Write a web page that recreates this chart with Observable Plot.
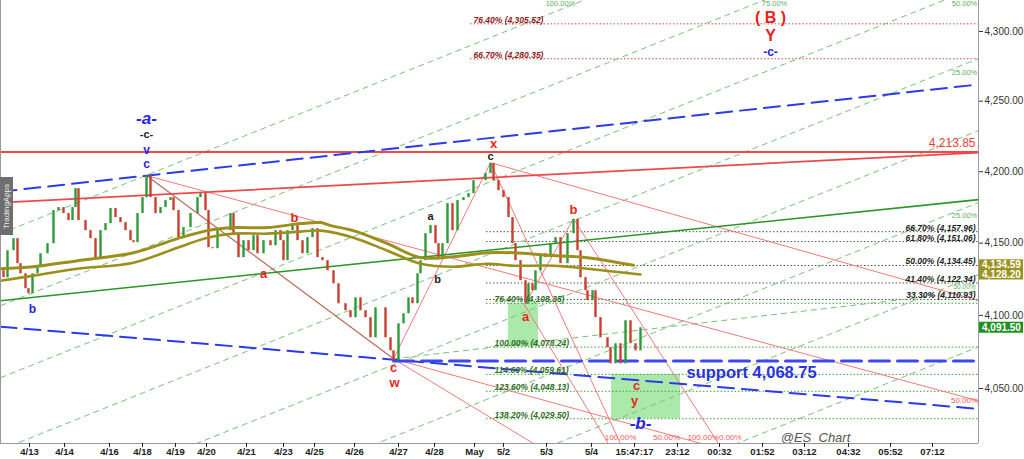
<!DOCTYPE html>
<html><head><meta charset="utf-8">
<script src="https://cdn.jsdelivr.net/npm/d3@7"></script>
<script src="https://cdn.jsdelivr.net/npm/@observablehq/plot@0.6"></script>
<style>
body{margin:0;background:#fff;}
#chart{position:relative;width:1024px;height:459px;overflow:hidden;}
#tab{position:absolute;left:0;top:177px;width:13px;height:58px;background:#6e6e6e;color:#eee;font:8px "Liberation Sans",Arial,sans-serif;writing-mode:vertical-rl;transform:rotate(180deg);text-align:center;line-height:13px;}
</style></head><body><div id="chart"><div id="tab">TradingApps</div></div>
<script>
// ---------- DATA ----------
// price path (bar index, close)
const candleBars = [0,1.5,3.5,6.5,8.5,10,12.5,14,16,18.5,20,23.5,26.5,29,31.5,34,36,37.5,39,42.5,45,47.5,50,52.5,55,57.5,60,62.5,65,66.5,68.5,71,73,75,77.5,80,82.5,85,86.5,89,91.5,95,98.5,100,102.5,104,106,108.5,111.5,115,116.5,119,121.5,124,126.5,128.5,131.5,135,137.5,140,141.5,143.5,146,148.5,151,153.5,156,158.5,161,163.5,166.5,169,172.5,175,177.5,180,182.5,185,187.5,190,192.5,195,196.5,199,201.5,204,206,208.5,210,212.5,215,217.5,219,221,223.5,226,228.5,231.5,234,236.5,240,242.5,245,246.5,249,251.5,254,256,257.5,260,262.5,264,266,267.5,270,272.5,275,277.5,280,283.5,286.5,288.5,290,292.5,293.5,296,297.5,300,303.5,305,307.5,310,312.5,315,317.5,320];
const candleClose = [4130.8,4126.0,4144.7,4153.1,4135.7,4128.7,4118.4,4114.9,4128.7,4132.9,4142.6,4149.6,4172.7,4174.8,4170.6,4165.7,4174.8,4188.1,4165.7,4158.7,4153.1,4139.9,4158.7,4163.6,4174.1,4167.8,4164.3,4158.7,4151.7,4150.3,4170.6,4181.8,4197.3,4181.8,4170.6,4174.8,4179.7,4181.8,4172.7,4153.8,4160.8,4170.6,4181.8,4184.6,4172.7,4146.8,4146.1,4158.7,4158.7,4170.6,4156.6,4139.9,4151.7,4144.7,4155.2,4142.6,4151.7,4148.2,4158.7,4151.7,4137.8,4158.7,4162.2,4151.7,4142.6,4153.8,4160.1,4139.9,4137.8,4130.8,4121.8,4108.0,4103.2,4098.4,4112.1,4103.2,4098.4,4084.6,4105.2,4105.2,4084.6,4075.7,4069.0,4094.2,4101.1,4112.1,4108.0,4128.7,4137.8,4156.6,4162.2,4149.6,4139.9,4149.6,4177.6,4158.7,4179.7,4181.8,4184.6,4193.7,4193.7,4198.7,4205.7,4193.7,4186.7,4181.8,4167.8,4149.6,4137.8,4123.9,4108.4,4121.8,4117.0,4130.8,4142.6,4139.9,4149.6,4153.8,4135.7,4156.6,4166.5,4144.7,4126.0,4117.0,4110.1,4117.0,4098.4,4084.6,4077.8,4066.8,4080.5,4066.8,4096.3,4080.5,4075.7,4091.5];

// moving averages
const maUpperBars = [0,16.5,38.5,66.5,88.5,103.5,116.5,133.5,150,160,165,176.5,193.5,210,226.5,243.5,256.5,276.5,293.5,316.5];
const maUpperVals = [4132.2,4133.6,4137.8,4143.3,4153.1,4158.7,4160.8,4160.8,4163.6,4164.3,4162.2,4158.7,4149.6,4139.9,4140.6,4143.3,4143.3,4141.3,4139.9,4134.59];
const maLowerBars = [0,16.5,38.5,66.5,88.5,103.5,116.5,133.5,150,160,176.5,193.5,210,226.5,243.5,256.5,276.5,293.5,320];
const maLowerVals = [4123.9,4127.4,4132.2,4136.4,4146.8,4153.8,4156.6,4156.6,4158.0,4158.7,4153.8,4144.7,4135.7,4133.6,4135.7,4134.3,4134.3,4132.2,4128.20];

// x axis ticks
const xTickBars = [14.5,32,54.5,71,87.5,103,123,141.5,157,177,199,217,237,251.5,273,295.5,317,338.5,359.5,381,402,424,445,466];
const xTickLabels = ["4/13","4/14","4/16","4/18","4/19","4/20","4/21","4/23","4/25","4/26","4/27","4/28","May","5/2","5/3","5/4","15:47:17","23:12","00:32","01:52","03:12","04:32","05:52","07:12"];
const yTicks = [4050,4100,4150,4200,4250,4300];
const xDomain = [0, 489];
const yDomain = [4012.8, 4322.4];

// fibonacci levels
const fibBlackLevels = [4157.96,4151.06,4134.45,4122.34,4110.93];
const fibBlackPct = ["66.70%","61.80%","50.00%","41.40%","33.30%"];
const fibGreenLevels = [4108.35,4078.24,4059.61,4048.13,4029.50];
const fibGreenPct = ["76.40%","100.00%","114.60%","123.60%","138.20%"];
const fibRedLevels = [4305.52,4280.35];
const fibRedPct = ["76.40%","66.70%"];
const fibStartBar = [243];
const fibRedStartBar = [235];

// target boxes
const boxX1 = [254,305.5], boxX2 = [269,340];
const boxLow = [4078.24,4029.50], boxHigh = [4108.35,4059.61];

// parallel (pitchfork) green dashed lines
const forkX1 = [0,0,0,0,0,0,0,0];
const forkP1 = [4156.6,4106.6,4057.3,4008.5,3960.3,3912.7,3865.7,3819.2];
const forkX2 = [489,489,489,489,489,489,489,489];
const forkP2 = [4438.7,4385.3,4332.6,4280.5,4229.1,4178.3,4128.1,4078.4];
const fanX1 = [196.5], fanP1 = [4070.2], fanX2 = [489], fanP2 = [4117.0];

// thin red wave lines
const redX1 = [73,245,196.5,262.5,286.5,245,196.5,196.5,261.5];
const redP1 = [4197.3,4206.4,4070.2,4108.35,4167.0,4206.4,4070.2,4070.2,4108.35];
const redX2 = [489,489,245,286.5,367.8,316.3,380,280,304];
const redP2 = [4041.6,4110.1,4206.4,4167.0,3994.4,3994.4,4001.8,4001.8,4012.6];
const brownX1 = [73], brownP1 = [4197.3], brownX2 = [196.5], brownP2 = [4070.2];

// trend lines
const resistLevel = 4213.85;
const redTrendBars = [0,489], redTrendVals = [4178.3,4213.5];
const greenTrendBars = [0,489], greenTrendVals = [4110.1,4180.4];
const blueUpperBars = [0,489], blueUpperVals = [4186.0,4261.9];
const blueLowerBars = [0,489], blueLowerVals = [4092.2,4036.2];
const supportBars = [196.5,489], supportLevel = 4068.75;

// wave labels
const redWave = ["b","a","x","c","w","a","b","c","y"];
const redWaveBars = [147,131.5,246.5,196.5,197,262.5,286.5,318,317];
const redWaveVals = [4167.8,4128.7,4219.9,4064.1,4053.9,4099.0,4173.4,4051.8,4041.6];
const blackWave = ["-c-","a","b","c"];
const blackWaveBars = [73,215,218.5,245];
const blackWaveVals = [4226.0,4168.5,4124.6,4210.7];
const blueWave = ["v","c","b","-c-"];
const blueWaveBars = [73,73,16,385];
const blueWaveVals = [4214.9,4205.0,4104.5,4284.9];
const bigBlue = ["-a-","-b-"];
const bigBlueBars = [73,320];
const bigBlueVals = [4237.5,4026.0];
const bigRed = ["( B )","Y"];
const bigRedBars = [385,385];
const bigRedVals = [4310.1,4297.1];

// percentage labels
const forkPct = ["100.00%","75.00%","50.00%","25.00%","25.00%","50.00%"];
const forkPctBars = [280,387,482,482,482,482];
const forkPctVals = [4320.3,4320.3,4320.3,4270.5,4169.2,4119.9];
const redPct = ["50.00%","100.00%","50.00%","100.00%0.00%"];
const redPctBars = [482,310,333,357];
const redPctVals = [4041.6,4016.6,4016.6,4016.6];

// notes
const supportText = "support 4,068.75", supportTextBar = 343, supportTextVal = 4060.7;
const resistText = "4,213.85", resistTextBar = 487.5, resistTextVal = 4219.9;
const credit = "@ES_Chart", creditBar = 407.5, creditVal = 4016.6;
const priceTags = [4134.59, 4128.20, 4091.50];
const priceTagColors = ["#9c9422","#9c9422","#1f8f1f"];

// ---------- BUILD ----------
const seg = (x1,p1,x2,p2) => x1.map((d,i)=>({x1:d,y1:p1[i],x2:x2[i],y2:p2[i]}));
const pts = (b,v) => b.map((d,i)=>({x:d,y:v[i]}));
const lbl = (t,b,v) => t.map((d,i)=>({t:d,x:b[i],y:v[i]}));
const candles = candleBars.map((b,i)=>({x:b, o: i? candleClose[i-1] : candleClose[i], c: candleClose[i]}));
const boxes = boxX1.map((d,i)=>({x1:d,x2:boxX2[i],y1:boxLow[i],y2:boxHigh[i]}));
const fmt = d3.format(",.2f");
const F = "Liberation Sans, Arial, sans-serif";
const forkLbl = lbl(forkPct,forkPctBars,forkPctVals);

const chart = Plot.plot({
  width: 1024, height: 459,
  marginLeft: 0, marginRight: 46, marginTop: 0, marginBottom: 16,
  x: {domain: xDomain, axis: null},
  y: {type: "log", domain: yDomain, axis: null},
  style: {background: "#fff", fontFamily: F, fontSize: "10px", color: "#222"},
  marks: [
    Plot.rect(boxes, {x1:"x1", x2:"x2", y1:"y1", y2:"y2", fill:"#86e086", fillOpacity:0.7}),
    Plot.ruleY(fibBlackLevels, {x1: fibStartBar[0], x2: xDomain[1], stroke:"#555", strokeDasharray:"1.5,2"}),
    Plot.ruleY(fibGreenLevels, {x1: fibStartBar[0], x2: xDomain[1], stroke:"#3aa03a", strokeDasharray:"1.5,2"}),
    Plot.ruleY(fibRedLevels, {x1: fibRedStartBar[0], x2: xDomain[1], stroke:"#c05050", strokeDasharray:"1.5,2"}),
    Plot.link(seg(forkX1,forkP1,forkX2,forkP2), {x1:"x1",y1:"y1",x2:"x2",y2:"y2", stroke:"#7cc07c", strokeWidth:1, strokeDasharray:"6,4", clip:true}),
    Plot.link(seg(fanX1,fanP1,fanX2,fanP2), {x1:"x1",y1:"y1",x2:"x2",y2:"y2", stroke:"#7cc07c", strokeWidth:1, strokeDasharray:"6,4", clip:true}),
    Plot.link(seg(redX1,redP1,redX2,redP2), {x1:"x1",y1:"y1",x2:"x2",y2:"y2", stroke:"#f07a7a", strokeWidth:1, clip:true}),
    Plot.link(seg(brownX1,brownP1,brownX2,brownP2), {x1:"x1",y1:"y1",x2:"x2",y2:"y2", stroke:"#b86a5a", strokeWidth:1.2, clip:true}),
    Plot.ruleY([resistLevel], {stroke:"#f04848", strokeWidth:2}),
    Plot.line(pts(redTrendBars,redTrendVals), {x:"x", y:"y", stroke:"#f04848", strokeWidth:1.8}),
    Plot.line(pts(greenTrendBars,greenTrendVals), {x:"x", y:"y", stroke:"#2a962a", strokeWidth:1.6}),
    Plot.line(pts(blueUpperBars,blueUpperVals), {x:"x", y:"y", stroke:"#2c3ae8", strokeWidth:2, strokeDasharray:"16,8"}),
    Plot.line(pts(blueLowerBars,blueLowerVals), {x:"x", y:"y", stroke:"#2c3ae8", strokeWidth:2, strokeDasharray:"16,8"}),
    Plot.line(pts(supportBars,[supportLevel,supportLevel]), {x:"x", y:"y", stroke:"#3c48ee", strokeWidth:3, strokeDasharray:"20,8"}),
    Plot.ruleX(candles, {x:"x", y1:"o", y2:"c", stroke: d => d.c >= d.o ? "#2f9a3a" : "#c8402e", strokeWidth:2.4}),
    Plot.line(pts(maUpperBars,maUpperVals), {x:"x", y:"y", stroke:"#9c8f1c", strokeWidth:3, curve:"catmull-rom"}),
    Plot.line(pts(maLowerBars,maLowerVals), {x:"x", y:"y", stroke:"#9c8f1c", strokeWidth:2.6, curve:"catmull-rom"}),
    // fib labels
    Plot.text(fibBlackLevels, {x: resistTextBar, y: d=>d, text:(d,i)=>`${fibBlackPct[i]} (${fmt(d)})`, textAnchor:"end", lineAnchor:"bottom", dy:-1, fill:"#222", fontSize:8.5, fontWeight:"bold", fontStyle:"italic"}),
    Plot.text(fibGreenLevels, {x: fibStartBar[0]+4, y: d=>d, text:(d,i)=>`${fibGreenPct[i]} (${fmt(d)})`, textAnchor:"start", lineAnchor:"bottom", dy:-1, fill:"#2f6e1e", fontSize:8.5, fontWeight:"bold", fontStyle:"italic"}),
    Plot.text(fibRedLevels, {x: fibRedStartBar[0]+1.5, y: d=>d, text:(d,i)=>`${fibRedPct[i]} (${fmt(d)})`, textAnchor:"start", lineAnchor:"bottom", dy:-1, fill:"#8e2020", fontSize:8.5, fontWeight:"bold", fontStyle:"italic"}),
    // percentage labels
    Plot.text(forkLbl.slice(0,5), {x:"x", y:"y", text:"t", fill:"#5fae5f", fontSize:7.5}),
    Plot.text(forkLbl.slice(5), {x:"x", y:"y", text:"t", fill:"#5fae5f", fontSize:6.5}),
    Plot.text(lbl(redPct,redPctBars,redPctVals), {x:"x", y:"y", text:"t", fill:"#f05a5a", fontSize:8}),
    // wave labels
    Plot.text(lbl(redWave,redWaveBars,redWaveVals), {x:"x", y:"y", text:"t", fill:"#e8261e", fontSize:13, fontWeight:"bold"}),
    Plot.text(lbl(blackWave,blackWaveBars,blackWaveVals), {x:"x", y:"y", text:"t", fill:"#222", fontSize:11, fontWeight:"bold"}),
    Plot.text(lbl(blueWave,blueWaveBars,blueWaveVals), {x:"x", y:"y", text:"t", fill:"#2626e6", fontSize:12, fontWeight:"bold"}),
    Plot.text(lbl(bigBlue,bigBlueBars,bigBlueVals), {x:"x", y:"y", text:"t", fill:"#2626e6", fontSize:17, fontWeight:"bold", fontStyle:"italic"}),
    Plot.text(lbl(bigRed,bigRedBars,bigRedVals), {x:"x", y:"y", text:"t", fill:"#f0201a", fontSize:16, fontWeight:"bold"}),
    Plot.text([supportText], {x: supportTextBar, y: supportTextVal, text: d=>d, textAnchor:"start", fill:"#2a32e0", fontSize:16.5, fontWeight:"bold"}),
    Plot.text([resistText], {x: resistTextBar, y: resistTextVal, text: d=>d, textAnchor:"end", fill:"#f03c3c", fontSize:12}),
    Plot.text([credit], {x: creditBar, y: creditVal, text: d=>d, fill:"#555", fontSize:13, fontStyle:"italic"}),
    // frame lines & axes
    Plot.ruleY([yDomain[0]], {stroke:"#999"}),
    Plot.ruleX([xDomain[0], xDomain[1]], {stroke:"#999"}),
    Plot.axisY({anchor:"right", ticks: yTicks, tickFormat: fmt, tickSize:4, tickPadding:2, fontSize:10, color:"#333", label:null}),
    Plot.axisX({anchor:"bottom", ticks: xTickBars, tickFormat: d => xTickLabels[xTickBars.indexOf(d)], tickSize:4, tickPadding:1, fontSize:9.5, fontWeight:"bold", color:"#222", label:null})
  ]
});
document.getElementById("chart").prepend(chart);

// price tags on the right axis, placed through the y scale
const ys = chart.scale("y");
const xs = chart.scale("x");
const g = d3.select(chart).append("g").attr("text-anchor","start");
const tagY = priceTags.map(v => ys.apply(v));
const axisX = xs.apply(xDomain[1]);
priceTags.forEach((v,i)=>{
  g.append("rect").attr("x", axisX+1).attr("y", tagY[i]-5.5).attr("width", 44).attr("height", 11).attr("fill", priceTagColors[i]);
});
priceTags.forEach((v,i)=>{
  g.append("text").attr("x", axisX+4).attr("y", tagY[i]).attr("dy","0.35em").attr("fill","#fff").attr("font-size",10).attr("font-weight","bold").text(fmt(v));
});
</script>
</body></html>
